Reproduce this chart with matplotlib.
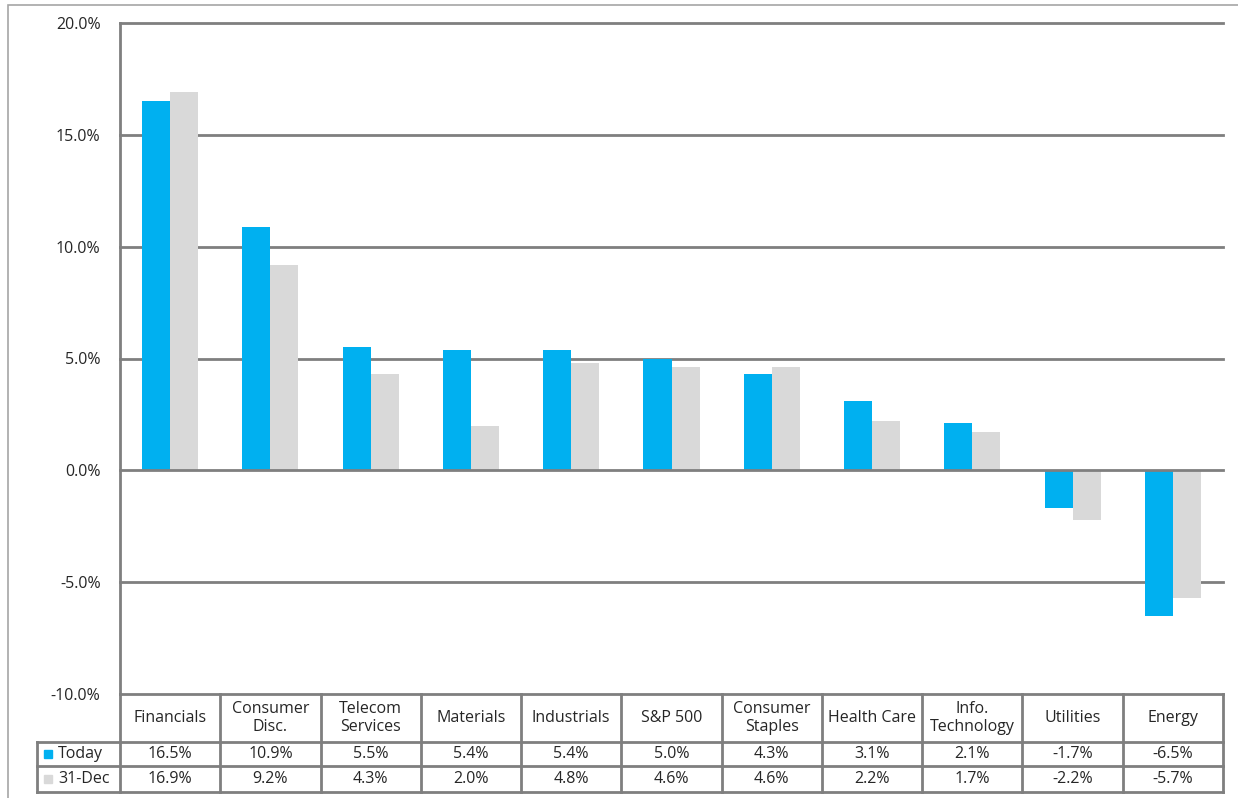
import matplotlib.pyplot as plt
from matplotlib.patches import Rectangle
from matplotlib.ticker import FuncFormatter
import matplotlib.transforms as mtransforms

plt.rcParams['font.family'] = ['Open Sans', 'DejaVu Sans']

# ---- data ----
categories = ['Financials', 'Consumer\nDisc.', 'Telecom\nServices', 'Materials', 'Industrials',
              'S&P 500', 'Consumer\nStaples', 'Health Care', 'Info.\nTechnology', 'Utilities', 'Energy']
today = [16.5, 10.9, 5.5, 5.4, 5.4, 5.0, 4.3, 3.1, 2.1, -1.7, -6.5]
dec31 = [16.9, 9.2, 4.3, 2.0, 4.8, 4.6, 4.6, 2.2, 1.7, -2.2, -5.7]
series_names = ['Today', '31-Dec']
colors = ['#00B0F0', '#D9D9D9']

W, H = 1238, 798
fig = plt.figure(figsize=(W / 100, H / 100), dpi=100)

def fx(px):
    return px / W

def fy(py):
    return 1 - py / H

grid_c = '#7F7F7F'
text_c = '#262626'
fs = 11.5

# outer chart border
fig.patches.append(Rectangle((fx(8), fy(1240)), fx(1300), fy(5) - fy(1240), transform=fig.transFigure,
                             fill=False, edgecolor='#A6A6A6', linewidth=1.2))

ax = fig.add_axes([fx(120), fy(694), fx(1223) - fx(120), fy(23) - fy(694)])
n = len(categories)
xs = [i + 0.5 for i in range(n)]
bw = 0.28
ax.bar([x - bw / 2 for x in xs], today, width=bw, color=colors[0], zorder=3)
ax.bar([x + bw / 2 for x in xs], dec31, width=bw, color=colors[1], zorder=3)

ax.set_xlim(0, n)
ax.set_ylim(-10, 20)
ax.set_yticks(range(-10, 21, 5))
ax.yaxis.set_major_formatter(FuncFormatter(lambda v, p: f"{v:.1f}%"))
ax.tick_params(axis='y', length=0, pad=14, labelsize=fs, labelcolor=text_c)
ax.set_xticks([])
for y in range(-5, 21, 5):
    ax.axhline(y, color=grid_c, linewidth=2, zorder=1 if y != 0 else 4, clip_on=False)
for s in ['top', 'right', 'bottom']:
    ax.spines[s].set_visible(False)
ax.spines['left'].set_color(grid_c)
ax.spines['left'].set_linewidth(2)

# ---- data table below ----
tr = mtransforms.blended_transform_factory(ax.transData, fig.transFigure)
lw = 2
row_y = [694, 742, 766, 792]
lab_left = (37 - 120) / (1223 - 120) * n  # data x of row-label column left edge

# horizontal lines
ax.plot([0, n], [fy(694)] * 2, color=grid_c, lw=lw, transform=tr, clip_on=False)
for py in row_y[1:]:
    ax.plot([lab_left, n], [fy(py)] * 2, color=grid_c, lw=lw, transform=tr, clip_on=False)
# vertical lines
for i in range(n + 1):
    ax.plot([i, i], [fy(694), fy(792)], color=grid_c, lw=lw, transform=tr, clip_on=False)
ax.plot([lab_left, lab_left], [fy(742), fy(792)], color=grid_c, lw=lw, transform=tr, clip_on=False)

for i, c in enumerate(categories):
    ax.text(xs[i], fy(718), c, ha='center', va='center', fontsize=fs, color=text_c,
            transform=tr, linespacing=1.2)
    ax.text(xs[i], fy(754), f"{today[i]:.1f}%", ha='center', va='center', fontsize=fs,
            color=text_c, transform=tr)
    ax.text(xs[i], fy(779), f"{dec31[i]:.1f}%", ha='center', va='center', fontsize=fs,
            color=text_c, transform=tr)

for k, (name, col) in enumerate(zip(series_names, colors)):
    py = [754, 779][k]
    fig.patches.append(Rectangle((fx(44), fy(py + 4)), fx(8), fy(py - 4) - fy(py + 4),
                                 transform=fig.transFigure, color=col))
    fig.text(fx(58), fy(py), name, ha='left', va='center', fontsize=fs, color=text_c)

fig.savefig('out.png', dpi=100)
